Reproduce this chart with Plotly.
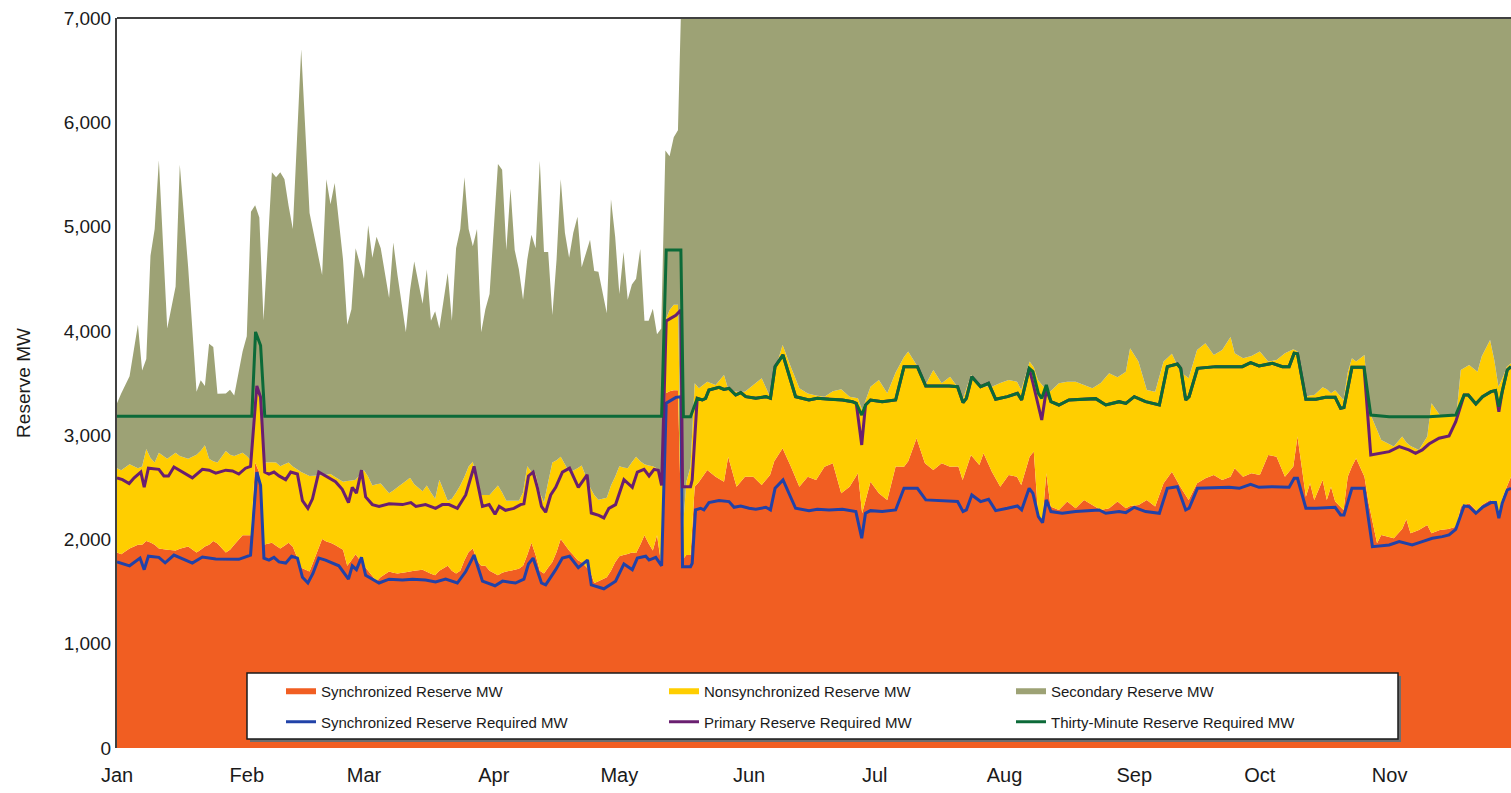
import plotly.graph_objects as go
from datetime import datetime, timedelta

# ---------------- data (day index from Jan 1) ----------------
YEAR_START = datetime(2023, 1, 1)

area_days = [
    0, 1, 3, 5, 6, 7, 8, 9, 10, 12,
    14, 15, 17, 19, 20, 21, 22, 23, 24, 26,
    27, 28, 30, 31, 32, 33, 34, 35, 37, 38,
    39, 40, 41, 42, 44, 46, 49, 50, 51, 52,
    54, 55, 56, 57, 59, 60, 61, 62, 63, 65,
    66, 67, 69, 70, 71, 73, 74, 75, 76, 77,
    79, 80, 81, 82, 83, 84, 85, 86, 87, 88,
    89, 91, 92, 93, 94, 95, 96, 97, 98, 99,
    100, 101, 102, 103, 104, 105, 106, 107, 108, 109,
    110, 111, 113, 114, 115, 117, 118, 119, 120, 121,
    122, 123, 124, 125, 126, 127, 128, 129, 130, 131,
    132, 133, 134, 135, 136, 137, 138, 139, 141, 143,
    145, 146, 148, 150, 152, 154, 156, 157, 159, 161,
    163, 165, 167, 169, 171, 173, 175, 177, 178, 180,
    182, 184, 186, 188, 189, 191, 193, 195, 197, 199,
    201, 202, 204, 206, 207, 209, 211, 213, 215, 216,
    218, 219, 220, 221, 222, 223, 225, 227, 229, 231,
    233, 235, 237, 239, 241, 242, 244, 246, 248, 250,
    252, 254, 256, 258, 260, 262, 264, 266, 267, 269,
    271, 273, 275, 277, 279, 281, 282, 284, 285, 286,
    288, 289, 290, 291, 293, 294, 295, 296, 298, 299,
    301, 302, 305, 307, 308, 309, 311, 313, 314, 316,
    318, 320, 321, 323, 325, 326, 328, 329, 330, 331,
    332, 333,
]

synchronized_mw = [
    1875, 1857, 1912, 1948, 1950, 1985, 1970, 1948, 1912, 1900,
    1894, 1910, 1931, 1875, 1900, 1931, 1950, 1985, 1960, 1875,
    1900, 1948, 2040, 2040, 2040, 2738, 2640, 1948, 1967, 1940,
    1912, 1940, 1967, 1930, 1729, 1692, 2004, 1980, 1967, 1950,
    1900, 1747, 1800, 1857, 1747, 1700, 1650, 1600, 1640, 1692,
    1680, 1674, 1685, 1692, 1700, 1710, 1690, 1670, 1656, 1700,
    1747, 1700, 1674, 1700, 1800, 1880, 1912, 1800, 1747, 1747,
    1700, 1656, 1680, 1692, 1700, 1710, 1720, 1747, 1850, 1967,
    1850, 1700, 1674, 1730, 1784, 1880, 2004, 1950, 1894, 1850,
    1802, 1780, 1700, 1582, 1600, 1637, 1700, 1780, 1839, 1850,
    1860, 1875, 1870, 1950, 2040, 1960, 1894, 2040, 1765, 3400,
    3420, 3430, 3430, 1800, 1850, 1850, 2506, 2550, 2666, 2602,
    2554, 2794, 2506, 2602, 2600, 2522, 2618, 2750, 2874, 2698,
    2506, 2602, 2570, 2698, 2730, 2442, 2506, 2634, 2251, 2554,
    2442, 2378, 2700, 2698, 2750, 2970, 2730, 2666, 2730, 2698,
    2700, 2570, 2810, 2714, 2826, 2650, 2506, 2618, 2600, 2522,
    2794, 2842, 2251, 2155, 2634, 2315, 2283, 2363, 2299, 2379,
    2331, 2283, 2300, 2363, 2299, 2320, 2331, 2379, 2315, 2538,
    2650, 2506, 2379, 2538, 2586, 2618, 2570, 2600, 2682, 2602,
    2634, 2618, 2810, 2794, 2602, 2700, 2986, 2410, 2538, 2378,
    2570, 2378, 2506, 2363, 2283, 2602, 2700, 2778, 2602, 2347,
    1963, 2043, 2011, 2100, 2193, 2059, 2091, 2139, 2059, 2091,
    2100, 2123, 2315, 2347, 2267, 2331, 2379, 2360, 2251, 2400,
    2506, 2602,
]

nonsynchronized_mw = [
    808, 807, 808, 735, 750, 881, 810, 790, 918, 874,
    936, 890, 843, 936, 950, 972, 824, 765, 778, 973,
    911, 852, 790, 760, 716, 734, 722, 790, 773, 798,
    789, 780, 771, 770, 917, 917, 611, 640, 660, 650,
    654, 813, 765, 715, 917, 900, 868, 930, 896, 752,
    790, 826, 875, 899, 830, 753, 828, 780, 733, 873,
    624, 689, 776, 818, 800, 820, 833, 750, 679, 679,
    726, 862, 770, 679, 671, 661, 651, 703, 851, 683,
    777, 750, 679, 820, 954, 880, 789, 770, 752, 810,
    881, 930, 800, 844, 780, 763, 818, 820, 862, 840,
    823, 865, 923, 800, 680, 750, 807, 640, 844, 700,
    780, 820, 820, 200, 700, 850, 991, 900, 847, 879,
    1023, 646, 911, 815, 880, 1023, 751, 850, 991, 952,
    943, 798, 810, 671, 690, 998, 863, 719, 990, 911,
    1087, 1023, 900, 1052, 1051, 703, 741, 959, 767, 863,
    750, 767, 767, 776, 644, 815, 994, 911, 913, 911,
    911, 808, 1278, 1325, 796, 1105, 1214, 1150, 1214, 1101,
    1118, 1217, 1293, 1192, 1310, 1513, 1374, 1054, 1102, 1167,
    1130, 1103, 1166, 1279, 1295, 1151, 1247, 1340, 1103, 1135,
    1125, 1183, 895, 927, 1183, 1123, 815, 959, 842, 1007,
    889, 1062, 895, 1067, 1054, 998, 1037, 927, 1167, 894,
    1087, 911, 879, 886, 737, 837, 767, 847, 1246, 1102,
    1093, 1086, 1310, 1326, 1342, 1422, 1534, 1361, 1214, 1150,
    1151, 1087,
]

secondary_mw = [
    624, 736, 844, 1376, 919, 863, 1940, 2239, 2807, 1248,
    1596, 2793, 1836, 606, 677, 569, 1102, 1096, 660, 552,
    624, 580, 972, 1149, 2386, 1732, 1725, 1362, 2780, 2734,
    2819, 2734, 2459, 2277, 4055, 2522, 1921, 2834, 2588, 2817,
    2129, 1499, 1641, 2221, 1836, 2413, 2183, 2373, 2257, 1872,
    2378, 2036, 1426, 1798, 2135, 1798, 2073, 1646, 1799, 1449,
    2184, 1707, 2343, 2459, 2872, 2277, 2066, 2427, 1560, 1780,
    1927, 3083, 3096, 2404, 2991, 2404, 2220, 1848, 1982, 2271,
    2166, 3180, 2403, 2206, 1413, 1923, 2661, 2220, 2055, 2280,
    2411, 1900, 2374, 2147, 2186, 1769, 2745, 2303, 1652, 2066,
    1615, 1704, 1707, 2036, 1376, 1386, 1512, 1287, 1413, 1629,
    1474, 1607, 1673, 5500, 5500, 5500, 5500, 5500, 5500, 5500,
    5500, 5500, 5500, 5500, 5500, 5500, 5500, 5500, 5500, 5500,
    5500, 5500, 5500, 5500, 5500, 5500, 5500, 5500, 5500, 5500,
    5500, 5500, 5500, 5500, 5500, 5500, 5500, 5500, 5500, 5500,
    5500, 5500, 5500, 5500, 5500, 5500, 5500, 5500, 5500, 5500,
    5500, 5500, 5500, 5500, 5500, 5500, 5500, 5500, 5500, 5500,
    5500, 5500, 5500, 5500, 5500, 5500, 5500, 5500, 5500, 5500,
    5500, 5500, 5500, 5500, 5500, 5500, 5500, 5500, 5500, 5500,
    5500, 5500, 5500, 5500, 5500, 5500, 5500, 5500, 5500, 5500,
    5500, 5500, 5500, 5500, 5500, 5500, 5500, 5500, 5500, 5500,
    5500, 5500, 5500, 5500, 5500, 5500, 5500, 5500, 5500, 5500,
    5500, 5500, 5500, 5500, 5500, 5500, 5500, 5500, 5500, 5500,
    5500, 5500,
]

sync_req_days = [
    0, 3, 5.5, 6.5, 7.5, 10, 11.5, 13.6, 18, 20.4, 23.6, 29.1, 31.9, 33.4, 34.3,
    35.1, 36.3, 37.5, 38.7, 40.3, 41.7, 43.1, 44.3, 45.6, 46.8, 48.2, 49.8, 53,
    55.3, 56.2, 57.2, 58.4, 59.4, 61.8, 62.6, 65, 68.2, 70.6, 73.7, 76.1, 78.5,
    81.3, 83.3, 85.3, 87.3, 90.3, 92.1, 95.2, 97.2, 98.3, 99.4, 101.4, 102.4,
    104.8, 106.4, 108.1, 110.2, 112.4, 113.3, 116.3, 119.1, 121.1, 123.1, 124.3,
    126.3, 127.1, 128.7, 130.1, 131.2, 133.5, 134.7, 135.1, 137, 137.4, 138.2,
    139.4, 140.2, 141.4, 143.8, 146.2, 147.4, 149, 151, 152.6, 155, 156.1, 157.2,
    159.1, 162.1, 165.3, 167.3, 170.1, 173.3, 176.5, 177.9, 178.8, 180, 182.8,
    186, 188, 191.2, 193.2, 198.8, 200.8, 202.1, 202.9, 204.2, 206.3, 208.2,
    209.9, 212.7, 215.1, 216.1, 217.9, 218.8, 220.1, 221.1, 222, 223.1, 225.8,
    229, 232.2, 234.6, 236.2, 239.4, 241, 243, 245.7, 249, 250.9, 253.3, 255.3,
    256.1, 258.1, 262.5, 265.7, 268.1, 270.8, 272.8, 276, 280, 281.2, 282, 284,
    286.4, 291, 292.3, 293.1, 295, 297.9, 299.9, 303.9, 306.3, 309.4, 311.8,
    314.2, 316.6, 318.2, 319.8, 321.8, 323, 324.6, 326.2, 328.2, 329.3, 330.1,
    330.9, 332.1, 333,
]
sync_req_mw = [
    1784, 1747, 1821, 1710, 1839, 1828, 1776, 1850, 1773, 1831, 1813, 1809, 1850, 2646, 2518,
    1821, 1802, 1828, 1784, 1773, 1839, 1821, 1637, 1582, 1674, 1821, 1802, 1747,
    1619, 1747, 1710, 1828, 1656, 1600, 1582, 1619, 1611, 1619, 1611, 1593, 1619,
    1582, 1692, 1850, 1600, 1556, 1600, 1582, 1619, 1765, 1821, 1582, 1564,
    1710, 1821, 1839, 1729, 1802, 1564, 1527, 1600, 1765, 1710, 1821,
    1839, 1802, 1828, 1747, 3307, 3362, 3369, 1739, 1739, 1771, 2283,
    2299, 2283, 2353, 2372, 2363, 2308, 2321, 2299, 2289, 2308, 2283, 2490,
    2570, 2299, 2276, 2289, 2283, 2289, 2267, 2011, 2251, 2276, 2267,
    2283, 2490, 2490, 2379, 2363, 2363, 2267, 2283, 2426, 2363, 2385,
    2276, 2299, 2321, 2283, 2490, 2442, 2219, 2161, 2379, 2267, 2251,
    2267, 2276, 2283, 2251, 2267, 2257, 2308, 2267, 2251, 2490, 2506, 2283,
    2299, 2490, 2497, 2500, 2490, 2529, 2500, 2506, 2500, 2586, 2586, 2299,
    2299, 2308, 2235, 2235, 2490, 2490, 1931, 1947, 1979, 1947, 1979,
    2011, 2027, 2043, 2097, 2321, 2315, 2251, 2308, 2353, 2353, 2203,
    2347, 2474, 2490,
]

primary_req_days = [
    0, 1.3, 2.9, 4.1, 5.7, 6.5, 7.5, 10, 11.2, 12.3, 13.6, 15.6, 18, 20.4, 22,
    23.6, 24.8, 26, 27.6, 29.1, 30.7, 31.9, 33.4, 34.3, 35.3, 36.3, 37.5, 38.7,
    40.3, 41.5, 43.1, 44.3, 45.6, 46.7, 48.2, 49.8, 52.2, 53.8, 55.3, 56.2, 57.2,
    58.4, 59.4, 61, 62.6, 65, 68.2, 70.2, 71.4, 73.7, 76.1, 77.7, 79.3, 81.3,
    83.3, 85.3, 87.3, 88.9, 90.3, 91.3, 92.8, 94.8, 96.4, 97.2, 98.3, 99.4,
    100.4, 101.4, 102.4, 103.6, 104.8, 106.4, 108.1, 110.2, 112.3, 113.3, 115.1,
    116.3, 117.5, 119.1, 121.1, 123.1, 124.3, 125.9, 127.1, 128.3, 129.3, 130.1,
    131.2, 133.5, 134.7, 135.1, 137, 137.4, 138.6,
    139.8, 140.6, 141.4, 143.8, 145, 146.2, 147.8, 149, 150.2, 152.6, 155, 156.1,
    157.2, 159.1, 162.1, 165.3, 167.3, 170.1, 173.3, 175.7, 176.6, 177.9, 178.8,
    180, 182.8, 186, 188, 191.2, 193.2, 198.8, 200.8, 202.1, 202.9, 204.2, 206.3,
    208.2, 209.9, 212.7, 215.1, 216.1, 217.9, 218.8, 220.1, 220.9, 222, 223.1,
    225, 227.4, 230.6, 233.8, 236.2, 239.4, 241, 243, 245.7, 249, 250.9, 253.3,
    254.1, 255.3, 256.1, 258.1, 262.5, 265.7, 268.8, 270.8, 272.8, 276, 278.4,
    280, 281.2, 282, 284, 286.4, 288.7, 291, 292.3, 293.1, 295, 297.9, 299.5,
    303.9, 306.3, 308.6, 310.2, 311.8, 313.4, 315.8, 318.2, 319.8, 321.8, 322.8,
    324.6, 326.2, 328.2, 329.3, 330.1, 330.9, 332.1, 333,
]
primary_req_mw = [
    2591, 2573, 2536, 2591, 2646, 2500, 2683, 2672, 2609, 2609, 2694, 2646, 2591, 2672, 2664,
    2635, 2646, 2664, 2657, 2627, 2683, 2701, 3472, 3362, 2646, 2627, 2646, 2609,
    2573, 2646, 2627, 2371, 2298, 2389, 2646, 2609, 2554, 2481, 2353, 2500, 2444,
    2664, 2408, 2334, 2316, 2342, 2334, 2353, 2316, 2334, 2298, 2334, 2334, 2298,
    2426, 2701, 2316, 2334, 2242, 2316, 2279, 2298, 2334, 2342, 2609, 2646,
    2500, 2316, 2261, 2426, 2500, 2646, 2683, 2500, 2620, 2253, 2231,
    2206, 2298, 2334, 2573, 2500, 2646, 2672, 2609, 2672, 2664, 2518,
    4096, 4150, 4200, 2506, 2506, 2570, 3353,
    3337, 3353, 3433, 3459, 3439, 3449, 3385, 3408, 3369, 3353, 3369, 3353,
    3657, 3769, 3369, 3337, 3353, 3344, 3337, 3321, 3305, 2906, 3289,
    3337, 3321, 3337, 3657, 3657, 3471, 3471, 3465, 3312, 3353, 3561, 3465,
    3497, 3344, 3369, 3401, 3337, 3641, 3500, 3273, 3145, 3433, 3321,
    3289, 3337, 3344, 3350, 3289, 3321, 3305, 3369, 3321, 3289, 3657, 3682,
    3641, 3337, 3369, 3641, 3657, 3657, 3657, 3695, 3663, 3689, 3657,
    3657, 3785, 3780, 3344, 3344, 3363, 3363, 3257, 3265, 3650, 3650, 2810,
    2842, 2890, 2858, 2826, 2858, 2915, 2970, 2992, 3129, 3385, 3385,
    3299, 3369, 3417, 3427, 3225, 3417, 3625, 3657,
]

thirty_min_req_days = [
    0, 32.2, 33.1, 34.3, 35.3, 130.1, 131.2, 134.7, 135.3, 137, 138.6,
    139.8, 140.6, 141.4, 143.8, 145, 146.2, 147.8, 149, 150.2, 152.6, 155, 156.1,
    157.2, 159.1, 162.1, 165.3, 167.3, 170.1, 173.3, 175.7, 176.6, 177.9, 178.8,
    180, 182.8, 186, 188, 191.2, 193.2, 198.8, 200.8, 202.1, 202.9, 204.2, 206.3,
    208.2, 209.9, 212.7, 215.1, 216.1, 217.9, 218.8, 220.1, 220.9, 222, 223.1,
    225, 227.4, 230.6, 233.8, 236.2, 239.4, 241, 243, 245.7, 249, 250.9, 253.3,
    254.1, 255.3, 256.1, 258.1, 262.5, 265.7, 268.8, 270.8, 272.8, 276, 278.4,
    280, 281.2, 282, 284, 286.4, 288.7, 291, 292.3, 293.1, 295, 297.9, 299.5,
    303.9, 313.4, 319.8, 321.8, 322.8,
    324.6, 326.2, 328.2, 329.3, 330.1, 330.9, 332.1, 333,
]
thirty_min_req_mw = [
    3180, 3180, 3990, 3860, 3180, 3180, 4775, 4775, 3177, 3177, 3353,
    3337, 3353, 3433, 3459, 3439, 3449, 3385, 3408, 3369, 3353, 3369, 3353,
    3657, 3769, 3369, 3337, 3353, 3344, 3337, 3321, 3305, 3193, 3289,
    3337, 3321, 3337, 3657, 3657, 3471, 3471, 3465, 3312, 3353, 3561, 3465,
    3497, 3344, 3369, 3401, 3337, 3641, 3609, 3401, 3353, 3481, 3321,
    3289, 3337, 3344, 3350, 3289, 3321, 3305, 3369, 3321, 3289, 3657, 3682,
    3641, 3337, 3369, 3641, 3657, 3657, 3657, 3695, 3663, 3689, 3657,
    3657, 3785, 3780, 3344, 3344, 3363, 3363, 3257, 3265, 3650, 3650, 3193,
    3177, 3177, 3193, 3385, 3385,
    3299, 3369, 3417, 3427, 3273, 3417, 3625, 3657,
]

month_ticks = ["2023-01-01", "2023-02-01", "2023-03-01", "2023-04-01", "2023-05-01",
               "2023-06-01", "2023-07-01", "2023-08-01", "2023-09-01", "2023-10-01",
               "2023-11-01"]
month_labels = ["Jan", "Feb", "Mar", "Apr", "May", "Jun", "Jul", "Aug", "Sep", "Oct", "Nov"]

for a, b in [(area_days, synchronized_mw), (area_days, nonsynchronized_mw),
             (area_days, secondary_mw), (sync_req_days, sync_req_mw),
             (primary_req_days, primary_req_mw), (thirty_min_req_days, thirty_min_req_mw)]:
    assert len(a) == len(b), (len(a), len(b))


def to_dates(days):
    return [YEAR_START + timedelta(days=d) for d in days]


FONT = "Liberation Sans, Arial, sans-serif"
TXT = "#1a1a1a"
ORANGE = "#F15E22"
YELLOW = "#FFCE00"
OLIVE = "#9DA275"
BLUE = "#2142A8"
PURPLE = "#6A1F70"
GREEN = "#0C6A38"

fig = go.Figure()
area_x = to_dates(area_days)
fig.add_trace(go.Scatter(x=area_x, y=synchronized_mw, name="Synchronized Reserve MW",
                         stackgroup="res", mode="none", fillcolor=ORANGE,
                         legend="legend", legendgroup="a"))
fig.add_trace(go.Scatter(x=area_x, y=nonsynchronized_mw, name="Nonsynchronized Reserve MW",
                         stackgroup="res", mode="none", fillcolor=YELLOW,
                         legend="legend2", legendgroup="b"))
fig.add_trace(go.Scatter(x=area_x, y=secondary_mw, name="Secondary Reserve MW",
                         stackgroup="res", mode="none", fillcolor=OLIVE,
                         legend="legend3", legendgroup="c"))
fig.add_trace(go.Scatter(x=to_dates(sync_req_days), y=sync_req_mw,
                         name="Synchronized Reserve Required MW", mode="lines",
                         line=dict(color=BLUE, width=3), legend="legend", legendgroup="d"))
fig.add_trace(go.Scatter(x=to_dates(primary_req_days), y=primary_req_mw,
                         name="Primary Reserve Required MW", mode="lines",
                         line=dict(color=PURPLE, width=3), legend="legend2", legendgroup="e"))
fig.add_trace(go.Scatter(x=to_dates(thirty_min_req_days), y=thirty_min_req_mw,
                         name="Thirty-Minute Reserve Required MW", mode="lines",
                         line=dict(color=GREEN, width=3), legend="legend3", legendgroup="f"))

W, H = 1511, 793
L, R, T, B = 117, 0, 18, 45
PW, PH = W - L - R, H - T - B


def px(xp):
    return (xp - L) / PW


def py(yp):
    return (H - B - yp) / PH


legend_common = dict(bgcolor="rgba(0,0,0,0)", borderwidth=0, orientation="v",
                     font=dict(family=FONT, size=15, color=TXT),
                     tracegroupgap=8, traceorder="grouped",
                     xanchor="left", yanchor="top", y=py(675))

fig.update_layout(
    width=W, height=H, autosize=False,
    margin=dict(l=L, r=R, t=T, b=B, autoexpand=False),
    paper_bgcolor="white", plot_bgcolor="white",
    font=dict(family=FONT, color=TXT),
    legend=dict(legend_common, x=px(281)),
    legend2=dict(legend_common, x=px(664)),
    legend3=dict(legend_common, x=px(1011)),
    xaxis=dict(
        type="date", automargin=False,
        range=["2023-01-01", "2023-11-30"],
        tickvals=month_ticks, ticktext=month_labels,
        showgrid=False, zeroline=False, showline=False, ticks="",
        ticklabelstandoff=13,
        tickfont=dict(family=FONT, size=20, color=TXT),
    ),
    yaxis=dict(
        automargin=False,
        range=[0, 7000], dtick=1000, tickformat=",",
        showgrid=False, zeroline=False, ticks="",
        showline=True, linecolor="#404040", linewidth=2,
        tickfont=dict(family=FONT, size=19, color=TXT),
        title=dict(text="Reserve MW", font=dict(family=FONT, size=19, color=TXT),
                   standoff=28),
    ),
    shapes=[
        dict(type="line", xref="paper", yref="paper", x0=0, x1=1, y0=1, y1=1,
             line=dict(color="#404040", width=2), layer="above"),
        dict(type="rect", xref="paper", yref="paper",
             x0=px(250), x1=px(1401), y0=py(742), y1=py(676),
             line=dict(width=0), fillcolor="#6e6e6e", layer="above"),
        dict(type="rect", xref="paper", yref="paper",
             x0=px(247), x1=px(1398), y0=py(739), y1=py(673),
             line=dict(color="#1a1a1a", width=1.5), fillcolor="white", layer="above"),
    ],
)

page_fix = (
    "document.documentElement.style.margin='0';"
    "document.documentElement.style.overflow='hidden';"
    "document.body.style.margin='0';document.body.style.padding='0';"
    "document.body.style.overflow='hidden';"
    "var gd=document.getElementById('{plot_id}');"
    "gd.style.width='1511px';gd.style.height='793px';"
    "Plotly.relayout(gd,{width:1511,height:793});"
)

fig.write_html("out.html", post_script=page_fix,
               default_width="1511px", default_height="793px",
               config={"responsive": False, "displayModeBar": False})
